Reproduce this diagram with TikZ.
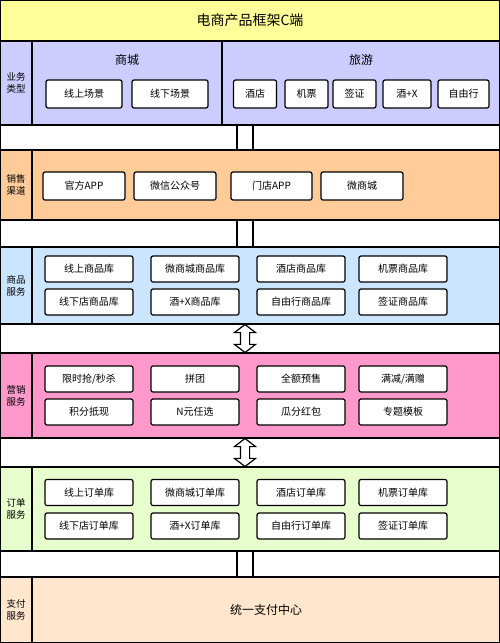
\documentclass[tikz,border=0pt]{standalone}
\usepackage{fontspec}
\setmainfont{Noto Sans CJK SC}
\usetikzlibrary{shapes.arrows}
\definecolor{TitleYellow}{HTML}{FFFF99}
\definecolor{BizLilac}{HTML}{CCCCFF}
\definecolor{SaleOrange}{HTML}{FFCC99}
\definecolor{GoodsBlue}{HTML}{CCE5FF}
\definecolor{PromoPink}{HTML}{FF99CC}
\definecolor{OrderGreen}{HTML}{E6FFCC}
\definecolor{PayPeach}{HTML}{FFE6CC}

\begin{document}
\begin{tikzpicture}[
  x=1pt, y=-1pt, every node/.style={font=\fontsize{10}{12}\selectfont},
  band/.style={draw, line width=1.2pt, inner sep=0pt},
  tag/.style={band, align=center, font=\fontsize{9.5}{12}\selectfont, minimum width=32pt},
  item/.style={draw, fill=white, line width=1.2pt, rounded corners=2pt, inner sep=0pt},
  pipe/.style={draw, fill=white, line width=1.2pt, inner sep=0pt, minimum width=16pt},
  flow/.style={double arrow, draw, fill=white, line width=1.2pt, rotate=90, inner sep=4pt, double arrow head extend=6pt, double arrow tip angle=105, minimum height=28pt}
]
\useasboundingbox (0,0) rectangle (500,643);

% Title
\node[band, fill=TitleYellow, minimum width=500pt, minimum height=41pt, font=\fontsize{14}{16}\selectfont] (title) at (250,20.5) {电商产品框架C端};

% Row: business types
\node[tag, fill=BizLilac, minimum height=84pt] (bizTag) at (16,83) {业务\\类型};
\node[band, fill=BizLilac, minimum width=190pt, minimum height=84pt] (mall) at (127,83) {};
\node[band, fill=BizLilac, minimum width=278pt, minimum height=84pt] (travel) at (361,83) {};
\node[font=\fontsize{12}{14}\selectfont] (mallTitle) at (127,60) {商城};
\node[font=\fontsize{12}{14}\selectfont] (travelTitle) at (361,60) {旅游};
\node[item, minimum width=76pt, minimum height=28pt] (online) at (84,94) {线上场景};
\node[item, minimum width=76pt, minimum height=28pt] (offline) at (170,94) {线下场景};
\node[item, minimum width=43pt, minimum height=28pt] (hotel) at (255,94) {酒店};
\node[item, minimum width=43pt, minimum height=28pt] (flight) at (306.5,94) {机票};
\node[item, minimum width=43pt, minimum height=28pt] (visa) at (354.5,94) {签证};
\node[item, minimum width=48pt, minimum height=28pt] (hotelX) at (407,94) {酒+X};
\node[item, minimum width=51pt, minimum height=28pt] (freeTour) at (463.5,94) {自由行};

% Gap 1
\node[band, fill=white, minimum width=500pt, minimum height=25pt] (gapA) at (250,137.5) {};
\node[pipe, minimum height=25pt] (pipeA) at (245,137.5) {};

% Row: sales channels
\node[tag, fill=SaleOrange, minimum height=70pt] (saleTag) at (16,185) {销售\\渠道};
\node[band, fill=SaleOrange, minimum width=468pt, minimum height=70pt] (sale) at (266,185) {};
\node[item, minimum width=82pt, minimum height=28pt] (app) at (84,186) {官方APP};
\node[item, minimum width=82pt, minimum height=28pt] (wechat) at (175,186) {微信公众号};
\node[item, minimum width=81pt, minimum height=28pt] (storeApp) at (271.5,186) {门店APP};
\node[item, minimum width=82pt, minimum height=28pt] (microMall) at (362,186) {微商城};

% Gap 2
\node[band, fill=white, minimum width=500pt, minimum height=27pt] (gapB) at (250,233.5) {};
\node[pipe, minimum height=27pt] (pipeB) at (245,233.5) {};

% Row: goods service
\node[tag, fill=GoodsBlue, minimum height=77pt] (goodsTag) at (16,285.5) {商品\\服务};
\node[band, fill=GoodsBlue, minimum width=468pt, minimum height=77pt] (goods) at (266,285.5) {};
\foreach \txt/\px [count=\i] in {线上商品库/89, 微商城商品库/195, 酒店商品库/301, 机票商品库/403}
  \node[item, minimum width=88pt, minimum height=26pt] (goodsA\i) at (\px,269) {\txt};
\foreach \txt/\px [count=\i] in {线下店商品库/89, 酒+X商品库/195, 自由行商品库/301, 签证商品库/403}
  \node[item, minimum width=88pt, minimum height=26pt] (goodsB\i) at (\px,302) {\txt};

% Gap 3
\node[band, fill=white, minimum width=500pt, minimum height=29pt] (gapC) at (250,338.5) {};
\node[flow] (flowA) at (245,338.5) {};

% Row: marketing service
\node[tag, fill=PromoPink, minimum height=85pt] (promoTag) at (16,395.5) {营销\\服务};
\node[band, fill=PromoPink, minimum width=468pt, minimum height=85pt] (promo) at (266,395.5) {};
\foreach \txt/\px [count=\i] in {{限时抢/秒杀}/89, 拼团/195, 全额预售/301, {满减/满赠}/403}
  \node[item, minimum width=88pt, minimum height=26pt] (promoA\i) at (\px,379) {\txt};
\foreach \txt/\px [count=\i] in {积分抵现/89, N元任选/195, 瓜分红包/301, 专题模板/403}
  \node[item, minimum width=88pt, minimum height=26pt] (promoB\i) at (\px,412) {\txt};

% Gap 4
\node[band, fill=white, minimum width=500pt, minimum height=29pt] (gapD) at (250,452.5) {};
\node[flow] (flowB) at (245,452.5) {};

% Row: order service
\node[tag, fill=OrderGreen, minimum height=84pt] (orderTag) at (16,509) {订单\\服务};
\node[band, fill=OrderGreen, minimum width=468pt, minimum height=84pt] (order) at (266,509) {};
\foreach \txt/\px [count=\i] in {线上订单库/89, 微商城订单库/195, 酒店订单库/301, 机票订单库/403}
  \node[item, minimum width=88pt, minimum height=26pt] (orderA\i) at (\px,492.5) {\txt};
\foreach \txt/\px [count=\i] in {线下店订单库/89, 酒+X订单库/195, 自由行订单库/301, 签证订单库/403}
  \node[item, minimum width=88pt, minimum height=26pt] (orderB\i) at (\px,526) {\txt};

% Gap 5
\node[band, fill=white, minimum width=500pt, minimum height=26pt] (gapE) at (250,564) {};
\node[pipe, minimum height=26pt] (pipeE) at (245,564) {};

% Row: payment service
\node[tag, fill=PayPeach, minimum height=66pt] (payTag) at (16,610) {支付\\服务};
\node[band, fill=PayPeach, minimum width=468pt, minimum height=66pt, font=\fontsize{12}{14}\selectfont] (pay) at (266,610) {统一支付中心};

\end{tikzpicture}
\end{document}
